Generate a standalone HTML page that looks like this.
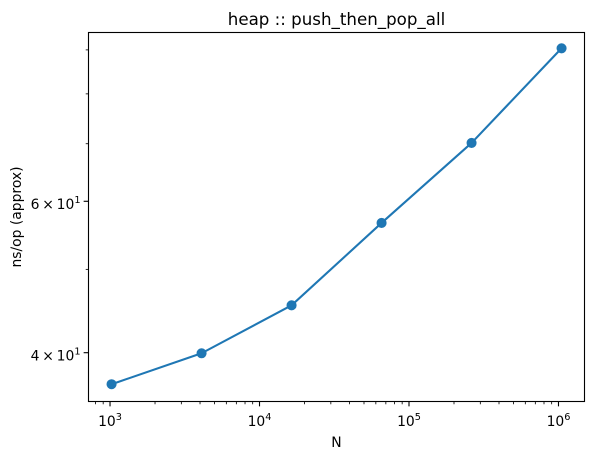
<!DOCTYPE html>
<html>
<head>
<meta charset="utf-8">
<title>heap :: push_then_pop_all</title>
<style>
html,body{margin:0;padding:0;background:#fff;width:593px;height:459px;overflow:hidden}
svg{display:block}
text{font-family:"DejaVu Sans","Liberation Sans",sans-serif;fill:#000}
</style>
</head>
<body>
<svg id="chart" xmlns="http://www.w3.org/2000/svg" width="593" height="459" viewBox="0 0 593 459">
  <rect x="0" y="0" width="593" height="459" fill="#fff"/>
  <text x="336.5" y="25" font-size="16.67" text-anchor="middle">heap :: push_then_pop_all</text>
  <text x="336.5" y="447" font-size="13.89" text-anchor="middle">N</text>
  <text transform="translate(21 217) rotate(-90)" font-size="13.89" text-anchor="middle">ns/op (approx)</text>
  <g id="ticks"></g>
  <g id="series"></g>
  <rect x="88.5" y="32.5" width="496" height="369" fill="none" stroke="#000" stroke-width="1.11"/>
</svg>
<script>
const categories = [1024, 4096, 16384, 65536, 262144, 1048576];
const seriesValues = [36.76, 39.94, 45.41, 56.62, 70.15, 90.39];
const xTickExponents = [3, 4, 5, 6];
const xMinorMultipliers = [2, 3, 4, 5, 6, 7, 8, 9];
const xMinorDecades = [2, 3, 4, 5, 6];
const yMajorTicks = [40, 60];
const yMajorMantissas = ['4', '6'];
const yMajorExponents = ['1', '1'];
const yMinorTicks = [50, 70, 80, 90];
const xLogLimits = [2.856, 6.174];
const yLogLimits = [1.5453, 1.97446];

const NS = 'http://www.w3.org/2000/svg';
const plot = { left: 88.5, right: 584.5, top: 32.5, bottom: 401.5 };
const ticksGroup = document.getElementById('ticks');
const seriesGroup = document.getElementById('series');

function xScale(v) {
  return plot.left + (Math.log10(v) - xLogLimits[0]) / (xLogLimits[1] - xLogLimits[0]) * (plot.right - plot.left);
}
function yScale(v) {
  return plot.bottom - (Math.log10(v) - yLogLimits[0]) / (yLogLimits[1] - yLogLimits[0]) * (plot.bottom - plot.top);
}
function makeLine(x1, y1, x2, y2, width) {
  const l = document.createElementNS(NS, 'line');
  l.setAttribute('x1', x1);
  l.setAttribute('y1', y1);
  l.setAttribute('x2', x2);
  l.setAttribute('y2', y2);
  l.setAttribute('stroke', '#000');
  l.setAttribute('stroke-width', width);
  return l;
}
function makeText(x, y, anchor, main, sup) {
  const t = document.createElementNS(NS, 'text');
  t.setAttribute('x', x);
  t.setAttribute('y', y);
  t.setAttribute('font-size', '13.89');
  t.setAttribute('text-anchor', anchor);
  t.appendChild(document.createTextNode(main));
  const s = document.createElementNS(NS, 'tspan');
  s.setAttribute('dy', '-6');
  s.setAttribute('font-size', '9.72');
  s.textContent = sup;
  t.appendChild(s);
  return t;
}

xMinorDecades.forEach(function (d) {
  xMinorMultipliers.forEach(function (m) {
    const v = m * Math.pow(10, d);
    const lv = Math.log10(v);
    if (lv < xLogLimits[0] || lv > xLogLimits[1]) return;
    const tick = makeLine(xScale(v), plot.bottom, xScale(v), plot.bottom + 2.78, 0.83);
    
    
    ticksGroup.appendChild(tick);
  });
});

xTickExponents.forEach(function (e) {
  const v = Math.pow(10, e);
  const tick = makeLine(xScale(v), plot.bottom, xScale(v), plot.bottom + 4.86, 1.11);
  
  
  ticksGroup.appendChild(tick);
  const label = makeText(xScale(v), 426, 'middle', '10', String(e));
  
  
  ticksGroup.appendChild(label);
});

yMinorTicks.forEach(function (v) {
  const tick = makeLine(plot.left - 2.78, yScale(v), plot.left, yScale(v), 0.83);
  
  
  ticksGroup.appendChild(tick);
});

yMajorTicks.forEach(function (v, i) {
  const tick = makeLine(plot.left - 4.86, yScale(v), plot.left, yScale(v), 1.11);
  
  
  ticksGroup.appendChild(tick);
  const label = makeText(80.5, yScale(v) + 7.8, 'end', yMajorMantissas[i] + '\u2009×\u2009' + '10', yMajorExponents[i]);
  
  
  ticksGroup.appendChild(label);
});

const path = document.createElementNS(NS, 'polyline');


path.setAttribute('points', categories.map(function (c, i) {
  return xScale(c) + ',' + yScale(seriesValues[i]);
}).join(' '));
path.setAttribute('fill', 'none');
path.setAttribute('stroke', '#1f77b4');
path.setAttribute('stroke-width', '2.08');
path.setAttribute('stroke-linejoin', 'round');
seriesGroup.appendChild(path);

categories.forEach(function (c, i) {
  const p = document.createElementNS(NS, 'circle');
  
  
  p.setAttribute('cx', xScale(c));
  p.setAttribute('cy', yScale(seriesValues[i]));
  p.setAttribute('r', '4.35');
  p.setAttribute('fill', '#1f77b4');
  p.setAttribute('stroke', '#1f77b4');
  p.setAttribute('stroke-width', '1.39');
  seriesGroup.appendChild(p);
});
</script>
</body>
</html>
